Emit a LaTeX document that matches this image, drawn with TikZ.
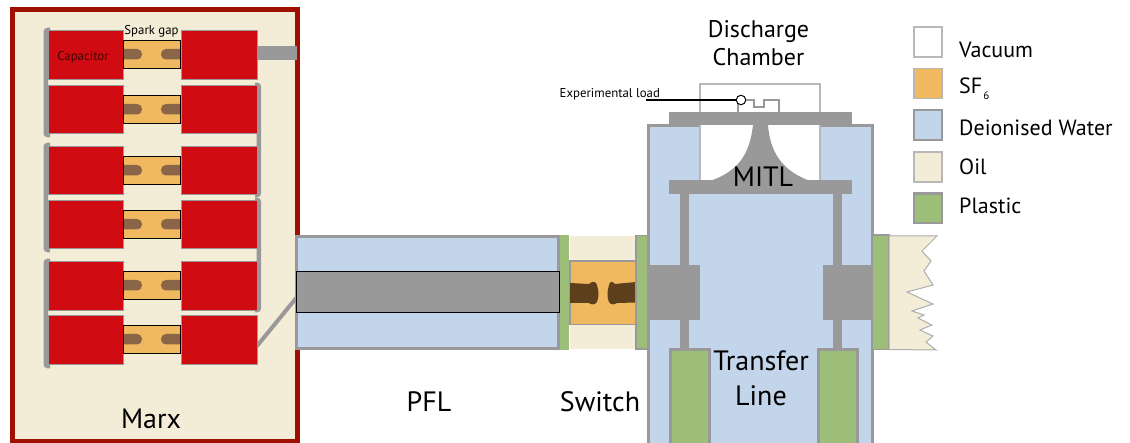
\documentclass[tikz,border=0pt]{standalone}
\usepackage{fontspec}
\setmainfont{PT Sans}
\definecolor{oilc}{HTML}{F3ECD7}
\definecolor{sfc}{HTML}{F0B95F}
\definecolor{waterc}{HTML}{C3D5EA}
\definecolor{plasticc}{HTML}{9CBE78}
\definecolor{greyc}{HTML}{999999}
\definecolor{capc}{HTML}{D00C12}
\definecolor{marxc}{HTML}{A01000}
\definecolor{elc}{HTML}{8B6547}
\definecolor{swc}{HTML}{5E3F1B}
\tikzset{
 capbox/.style={fill=capc,draw=greyc,line width=1pt},
 gapbox/.style={fill=sfc,draw=black,line width=1pt},
 greyfill/.style={fill=greyc,draw=none},
 bus/.style={draw=greyc,line width=4.6pt,rounded corners=2pt},
 waterbox/.style={fill=waterc,draw=greyc,line width=3pt},
 plasticbox/.style={fill=plasticc,draw=greyc,line width=3pt},
 plainbox/.style={draw=greyc!70,line width=1.5pt},
 lab/.style={font=\fontsize{28}{35}\selectfont,inner sep=0pt,align=center},
 leg/.style={font=\fontsize{22}{26}\selectfont,inner sep=0pt,anchor=west},
 small/.style={font=\fontsize{12.8}{15}\selectfont,inner sep=0pt}
}
\begin{document}
\begin{tikzpicture}[x=1pt,y=-1pt]
\useasboundingbox (0,0) rectangle (1130,443);
% Marx tank
\draw[fill=oilc,draw=marxc,line width=5pt] (12,9.5) rectangle (297,441.5);
% buses
\foreach \a/\b in {31/134,146/249,262/365}
  \draw[bus] (50,\a-1) -- (45.8,\a-1) -- (45.8,\b+1) -- (50,\b+1);
\foreach \a/\b in {85/195,200/310}
  \draw[bus] (255,\a) -- (258.8,\a) -- (258.8,\b) -- (255,\b);
\fill[greyfill] (257,46) rectangle (297,60.5);
\coordinate (diagA) at (257,346);
\coordinate (diagB) at (297,297);
\draw[greyc,line width=4pt] (diagA) -- (diagB);
% capacitor rows
\foreach \t/\g in {31/41,85.5/96,146.5/157,200.5/211,262/272,316/326}{
  \draw[gapbox] (123.5,\g) rectangle (180.5,\g+28);
  \fill[elc,rounded corners=4.9pt] (118,\g+8) rectangle (142,\g+18.5);
  \fill[elc,rounded corners=4.9pt] (161,\g+8) rectangle (186,\g+18.5);
  \draw[capbox] (48,\t) rectangle (123.5,\t+48.5);
  \draw[capbox] (181,\t) rectangle (257,\t+48.5);
  \draw[gapbox,fill=none] (123.5,\g) rectangle (180.5,\g+28);
}
\node[small,text=black!70!capc] (capacitor) at (83,57) {Capacitor};
\node[small] (sparkgap) at (151.5,31.5) {Spark gap};
\node[lab] (marx) at (151,419) {Marx};
% PFL
\draw[waterbox] (296.5,236.5) rectangle (558.5,349);
\draw[fill=greyc,draw=black,line width=1pt] (296.5,272) rectangle (559.5,313);
\fill[plasticc] (560,235) rectangle (569,350);
% Switch
\fill[oilc] (570,236) rectangle (636,349);
\draw[fill=sfc,draw=greyc,line width=1.2pt] (570,261) rectangle (636,324.5);
\fill[swc] (570,283) -- (589,284) .. controls (592,281) and (596,281) .. (597,285) .. controls (599,291) and (599,298) .. (597,302) .. controls (595,305) and (591,305) .. (589,303) -- (570,303) -- cycle;
\fill[swc] (636,282) -- (615,284) .. controls (612,281) and (610,281) .. (609,285) .. controls (607,291) and (607,298) .. (609,302) .. controls (611,305) and (614,305) .. (617,303) -- (636,302.5) -- cycle;
\draw[fill=plasticc,draw=greyc,line width=1.2pt] (636,235.5) rectangle (647.5,349);
% main water tank
\draw[waterbox] (648.5,125.5) rectangle (872.5,446);
% vacuum
\fill[white] (700,112) rectangle (820,181);
\draw[plainbox] (700,181) -- (700,84) -- (820,84) -- (820,181);
% top plate, cone, lower plate
\fill[greyfill] (669,112) rectangle (852,125.5);
\fill[greyfill] (753,125) .. controls (750,150) and (742,170) .. (710,181) -- (810,181) .. controls (780,170) and (770,150) .. (768,125) -- cycle;
\fill[greyfill] (669,180) rectangle (852,194);
% legs
\fill[greyfill] (680,194) rectangle (689,266);
\fill[greyfill] (833,194) rectangle (842,266);
\fill[greyfill] (647,265) rectangle (700,320);
\fill[greyfill] (823,265) rectangle (873,320);
\fill[greyfill] (680,320) rectangle (689,349);
\fill[greyfill] (833,320) rectangle (842,349);
% bottom plastics
\draw[plasticbox] (670.5,349.5) rectangle (709,446);
\draw[plasticbox] (818.5,349.5) rectangle (857,446);
% load
\draw[draw=greyc,line width=1.3pt] (738,112) -- (738,100) -- (754,100) -- (754,107) -- (764,107) -- (764,100) -- (779,100) -- (779,112);
\coordinate (loadend) at (646,100);
\node[circle,draw=black,fill=white,line width=1pt,minimum size=9.5pt,inner sep=0pt] (loadpt) at (741,100) {};
\draw[black,line width=2.4pt] (loadend) -- (loadpt);
\node[small,anchor=west] (explab) at (559.5,94.5) {Experimental load};
% right plastic & oil
\fill[plasticc] (873,235) rectangle (889,349.5);
\draw[greyc,line width=1.2pt] (873,235) -- (889,235) -- (889,349.5) -- (873,349.5);
\draw[fill=oilc,draw=greyc!80,line width=1pt] (889,236) -- (937,236) -- (922,251) -- (931,261) -- (924,271) -- (933,285) -- (907,292) -- (933,304) -- (912,311) -- (924,315) -- (918,318) -- (932,325) -- (920,330) -- (933,336) -- (926,342) -- (936,350) -- (889,349.5) -- cycle;
% labels
\node[lab,font=\fontsize{24}{28.5}\selectfont] (dc) at (758.5,43) {Discharge\\Chamber};
\node[lab] (mitl) at (763,177) {MITL};
\node[lab] (tl) at (761,378) {Transfer\\Line};
\node[lab] (pfl) at (429,402) {PFL};
\node[lab] (switch) at (600,402) {Switch};
% legend
\draw[fill=white,draw=greyc!70,line width=1.2pt] (914,27) rectangle (942,57);
\draw[fill=sfc,draw=greyc!70,line width=1.2pt] (914,68.5) rectangle (942,98.5);
\draw[fill=waterc,draw=greyc,line width=2.5pt] (914,110) rectangle (942,140);
\draw[fill=oilc,draw=greyc!70,line width=1.2pt] (914,152) rectangle (942,182);
\draw[fill=plasticc,draw=greyc,line width=2.5pt] (914,193.5) rectangle (942,223);
\node[leg] (l1) at (959,50) {Vacuum};
\node[leg] (l2) at (959,89) {SF\raisebox{-6pt}{\fontsize{11}{13}\selectfont\kern1pt 6}};
\node[leg] (l3) at (959,128) {Deionised Water};
\node[leg] (l4) at (959,167) {Oil};
\node[leg] (l5) at (959,206) {Plastic};
\end{tikzpicture}
\end{document}
